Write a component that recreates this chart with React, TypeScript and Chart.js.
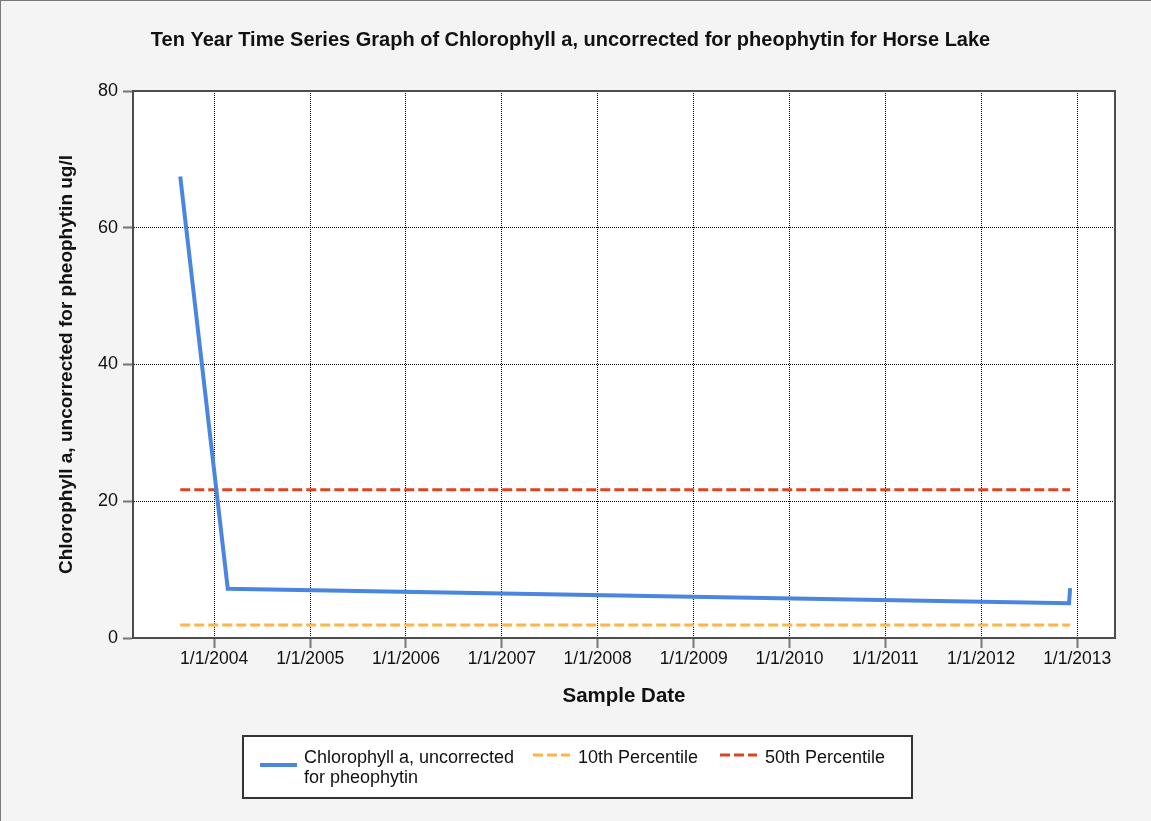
import React, { useEffect, useRef } from 'react';
import { Chart, registerables } from 'chart.js';

Chart.register(...registerables);

// ---- data ----
const SAMPLE_DATES = ['2003-08-25', '2004-02-22', '2012-12-01', '2012-12-05'];
const CHLA_VALUES = [67.5, 7.2, 5.1, 7.3];
const PERCENTILE_10 = 1.9;
const PERCENTILE_50 = 21.7;

const X_TICK_DATES = ['2004-01-01', '2005-01-01', '2006-01-01', '2007-01-01', '2008-01-01', '2009-01-01', '2010-01-01', '2011-01-01', '2012-01-01', '2013-01-01'];
const X_TICK_LABELS = ['1/1/2004', '1/1/2005', '1/1/2006', '1/1/2007', '1/1/2008', '1/1/2009', '1/1/2010', '1/1/2011', '1/1/2012', '1/1/2013'];
const X_RANGE_DATES = ['2003-02-26', '2013-05-25'];
const Y_MIN = 0;
const Y_MAX = 80;
const Y_STEP = 20;

const CHART_TITLE = 'Ten Year Time Series Graph of Chlorophyll a, uncorrected for pheophytin for Horse Lake';
const Y_TITLE = 'Chlorophyll a, uncorrected for pheophytin ug/l';
const X_TITLE = 'Sample Date';
const SERIES_LABELS = ['Chlorophyll a, uncorrected for pheophytin', '10th Percentile', '50th Percentile'];
const LEGEND_TEXT_LINES = [['Chlorophyll a, uncorrected', 'for pheophytin'], ['10th Percentile'], ['50th Percentile']];

const COLORS = { chla: '#4a86e0', p10: '#ffb444', p50: '#dd4422' };
const FONT = "'Liberation Sans', Arial, sans-serif";

const toMs = (d: string) => Date.parse(d + 'T00:00:00Z');

const decorPlugin = {
  id: 'decor',
  beforeDraw(chart: any) {
    const { ctx, chartArea: a, width, height } = chart;
    ctx.save();
    ctx.fillStyle = '#f4f4f4';
    ctx.fillRect(0, 0, width, height);
    ctx.fillStyle = '#ffffff';
    ctx.fillRect(a.left, a.top, a.right - a.left, a.bottom - a.top);
    ctx.restore();
  },
  afterDraw(chart: any) {
    const { ctx, chartArea: a, height, width } = chart;
    ctx.save();
    // outer frame (top and left)
    ctx.fillStyle = '#7a7a7a';
    ctx.fillRect(0, 0, width, 1);
    ctx.fillRect(0, 0, 1, height);
    // plot box
    ctx.strokeStyle = '#4d4d4d';
    ctx.lineWidth = 2;
    ctx.strokeRect(a.left, a.top, a.right - a.left, a.bottom - a.top);
    // chart title
    ctx.fillStyle = '#111';
    ctx.font = `bold 20px ${FONT}`;
    ctx.textAlign = 'center';
    ctx.textBaseline = 'alphabetic';
    ctx.fillText(CHART_TITLE, 570.5, 45.5);

    // legend
    ctx.fillStyle = '#ffffff';
    ctx.fillRect(243, 736, 669, 62);
    ctx.strokeStyle = '#333';
    ctx.lineWidth = 2;
    ctx.strokeRect(243, 736, 669, 62);

    const drawSample = (x1: number, x2: number, y: number, color: string, w: number, dash: number[]) => {
      ctx.beginPath();
      ctx.setLineDash(dash);
      ctx.strokeStyle = color;
      ctx.lineWidth = w;
      ctx.moveTo(x1, y);
      ctx.lineTo(x2, y);
      ctx.stroke();
      ctx.setLineDash([]);
    };
    drawSample(260, 297, 765, COLORS.chla, 4, []);
    drawSample(533, 570, 755, COLORS.p10, 3, [10, 4]);
    drawSample(720, 757, 755, COLORS.p50, 3, [10, 4]);

    ctx.fillStyle = '#111';
    ctx.font = `18px ${FONT}`;
    ctx.textAlign = 'left';
    ctx.textBaseline = 'alphabetic';
    ctx.fillText(LEGEND_TEXT_LINES[0][0], 304, 763);
    ctx.fillText(LEGEND_TEXT_LINES[0][1], 304, 783);
    ctx.fillText(LEGEND_TEXT_LINES[1][0], 578, 763);
    ctx.fillText(LEGEND_TEXT_LINES[2][0], 765, 763);
    ctx.restore();
  },
};

export default function App() {
  const ref = useRef<HTMLCanvasElement | null>(null);

  useEffect(() => {
    if (!ref.current) return;
    const xs = SAMPLE_DATES.map(toMs);
    const tickValues = X_TICK_DATES.map(toMs);
    const first = xs[0];
    const last = xs[xs.length - 1];

    const chart = new Chart(ref.current, {
      type: 'line',
      data: {
        datasets: [
          {
            label: SERIES_LABELS[0],
            data: xs.map((x, i) => ({ x, y: CHLA_VALUES[i] })),
            borderColor: COLORS.chla,
            backgroundColor: COLORS.chla,
            borderWidth: 4,
            pointRadius: 0,
            tension: 0,
          },
          {
            label: SERIES_LABELS[1],
            data: [{ x: first, y: PERCENTILE_10 }, { x: last, y: PERCENTILE_10 }],
            borderColor: COLORS.p10,
            borderWidth: 3,
            borderDash: [10, 4],
            pointRadius: 0,
          },
          {
            label: SERIES_LABELS[2],
            data: [{ x: first, y: PERCENTILE_50 }, { x: last, y: PERCENTILE_50 }],
            borderColor: COLORS.p50,
            borderWidth: 3,
            borderDash: [10, 4],
            pointRadius: 0,
          },
        ],
      },
      options: {
        responsive: false,
        animation: false,
        devicePixelRatio: 1,
        layout: { padding: { top: 91, right: 36, bottom: 93, left: 0 } },
        plugins: {
          legend: { display: false },
          title: { display: false },
          tooltip: { enabled: false },
        },
        scales: {
          x: {
            type: 'linear',
            min: toMs(X_RANGE_DATES[0]),
            max: toMs(X_RANGE_DATES[1]),
            afterBuildTicks: (scale: any) => {
              scale.ticks = tickValues.map((v) => ({ value: v }));
            },
            afterFit: (scale: any) => {
              scale.height = 90;
            },
            ticks: {
              autoSkip: false,
              maxRotation: 0,
              padding: 1,
              color: '#111',
              font: { family: FONT, size: 17.5 },
              callback: (value: any) => {
                const i = tickValues.indexOf(Number(value));
                return i >= 0 ? X_TICK_LABELS[i] : '';
              },
            },
            grid: {
              color: '#000',
              lineWidth: 1,
              tickLength: 10,
              tickColor: '#777',
              tickWidth: 2,
              tickBorderDash: [],
            },
            border: { display: true, color: '#4d4d4d', width: 2, dash: [1, 1] },
            title: {
              display: true,
              text: X_TITLE,
              color: '#111',
              font: { family: FONT, size: 20.5, weight: 'bold' },
              padding: { top: 0, bottom: 19.5 },
            },
          },
          y: {
            min: Y_MIN,
            max: Y_MAX,
            afterFit: (scale: any) => {
              scale.width = 133;
            },
            ticks: {
              stepSize: Y_STEP,
              padding: 5,
              color: '#111',
              font: { family: FONT, size: 18 },
            },
            grid: {
              color: '#000',
              lineWidth: 1,
              tickLength: 10,
              tickColor: '#777',
              tickWidth: 2,
              tickBorderDash: [],
            },
            border: { display: true, color: '#4d4d4d', width: 2, dash: [1, 1] },
            title: {
              display: true,
              text: Y_TITLE,
              color: '#111',
              font: { family: FONT, size: 19, weight: 'bold' },
              padding: { top: 55.3, bottom: 0 },
            },
          },
        },
      },
      plugins: [decorPlugin],
    } as any);

    return () => chart.destroy();
  }, []);

  return (
    <div style={{ position: 'absolute', left: 0, top: 0, width: 1151, height: 821 }}>
      <canvas ref={ref} width={1151} height={821} style={{ width: 1151, height: 821, display: 'block' }} />
    </div>
  );
}
